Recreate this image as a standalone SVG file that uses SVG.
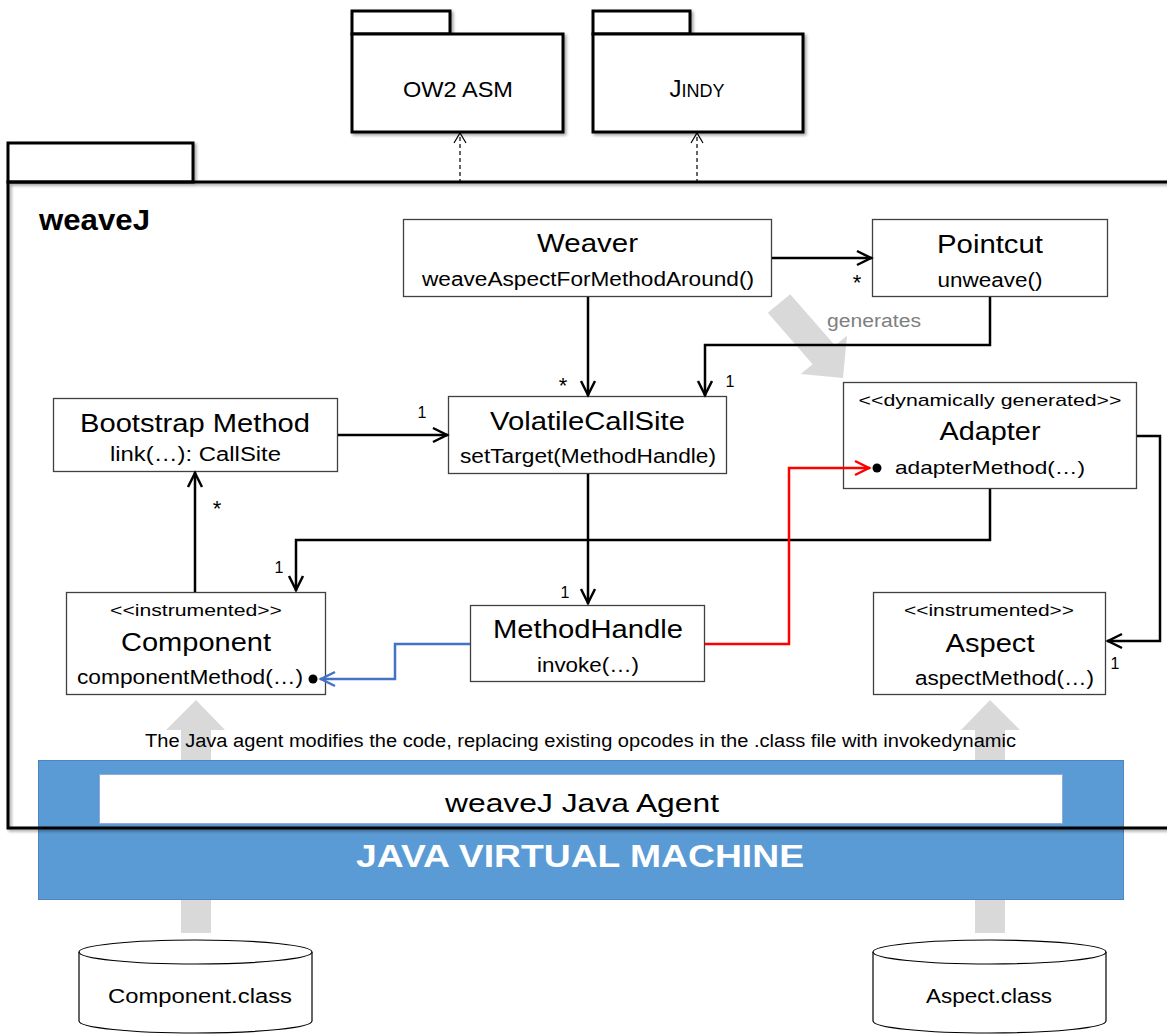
<svg xmlns="http://www.w3.org/2000/svg" width="1167" height="1036" viewBox="0 0 1167 1036">
  <defs>
    <style>
      text { font-family: "Liberation Sans", Arial, sans-serif; fill: #000; }
      .c { text-anchor: middle; }
      .title { font-size: 25px; }
      .op { font-size: 20px; }
      .st { font-size: 17px; }
      .mult { font-size: 16px; }
      .star { font-size: 22px; }
      .box { fill: #fff; stroke: #404040; stroke-width: 1.3; }
      .pkg { fill: #fff; stroke: #000; stroke-width: 3; }
      .conn { fill: none; stroke: #000; stroke-width: 2.5; }
      .gray { fill: #D9D9D9; }
    </style>
    <filter id="shadow" x="-5%" y="-5%" width="115%" height="120%">
      <feDropShadow dx="2" dy="2" stdDeviation="1.5" flood-color="#000" flood-opacity="0.35"/>
    </filter>
    <marker id="open" markerUnits="userSpaceOnUse" viewBox="-18 -10 20 20" refX="0" refY="0" markerWidth="20" markerHeight="20" orient="auto">
      <path d="M-15,-7 L-1,0 L-15,7" fill="none" stroke="#000" stroke-width="2.5"/>
    </marker>
    <marker id="openRed" markerUnits="userSpaceOnUse" viewBox="-18 -10 20 20" refX="0" refY="0" markerWidth="20" markerHeight="20" orient="auto">
      <path d="M-15,-7 L-1,0 L-15,7" fill="none" stroke="#FF0000" stroke-width="2.5"/>
    </marker>
    <marker id="openBlue" markerUnits="userSpaceOnUse" viewBox="-18 -10 20 20" refX="0" refY="0" markerWidth="20" markerHeight="20" orient="auto">
      <path d="M-15,-7 L-1,0 L-15,7" fill="none" stroke="#4472C4" stroke-width="2.5"/>
    </marker>
    <marker id="dep" markerUnits="userSpaceOnUse" viewBox="-12 -8 14 16" refX="0" refY="0" markerWidth="14" markerHeight="16" orient="auto">
      <path d="M-10,-6 L0,0 L-10,6" fill="none" stroke="#000" stroke-width="1.2"/>
    </marker>
  </defs>

  <rect width="1167" height="1036" fill="#fff"/>

  <!-- external packages -->
  <g id="pkg-asm">
    <g filter="url(#shadow)">
      <rect class="pkg" x="352" y="11" width="98" height="23"/>
      <rect class="pkg" x="352" y="34" width="211" height="98"/>
    </g>
    <text class="c" x="458" y="97" font-size="22" textLength="110" lengthAdjust="spacingAndGlyphs">OW2 ASM</text>
  </g>
  <g id="pkg-jindy">
    <g filter="url(#shadow)">
      <rect class="pkg" x="593" y="11" width="97" height="23"/>
      <rect class="pkg" x="593" y="34" width="210" height="98"/>
    </g>
    <text class="c" x="697" y="97"><tspan font-size="24">J</tspan><tspan font-size="18">INDY</tspan></text>
  </g>

  <!-- gray flow arrows (behind everything else) -->
  <g id="flow-arrows">
    <polygon class="gray" points="767.8,312.8 790.2,294.2 835,345.6 847,335.7 843,378 800.7,374.1 812.6,364.2"/>
    <polygon class="gray" points="181,933 181,730 166,730 196,700 225,730 211,730 211,933"/>
    <polygon class="gray" points="975,933 975,730 961,730 990,700 1020,730 1005,730 1005,933"/>
  </g>

  <!-- JVM and agent -->
  <g id="jvm">
    <rect x="38.5" y="760.5" width="1085" height="139" fill="#5B9BD5" stroke="#4A86C0" stroke-width="1"/>
    <text class="c" x="580" y="867" font-size="31" font-weight="bold" style="fill:#fff" textLength="448" lengthAdjust="spacingAndGlyphs">JAVA VIRTUAL MACHINE</text>
  </g>
  <g id="agent">
    <rect x="99.5" y="774.5" width="963" height="49" fill="#fff" stroke="#8FAADC" stroke-width="1"/>
    <text class="c" x="582" y="812" font-size="26" textLength="274" lengthAdjust="spacingAndGlyphs">weaveJ Java Agent</text>
  </g>

  <!-- weaveJ package frame -->
  <g id="pkg-weavej">
    <g filter="url(#shadow)">
      <rect x="8" y="143" width="185" height="39" fill="#fff" stroke="#000" stroke-width="3"/>
      <path d="M1175,182 L8,182 L8,828 L1175,828" fill="none" stroke="#000" stroke-width="3"/>
    </g>
    <text x="39" y="230" font-size="29" font-weight="bold" textLength="111" lengthAdjust="spacingAndGlyphs">weaveJ</text>
  </g>

  <text x="145" y="747" font-size="18" textLength="871" lengthAdjust="spacingAndGlyphs">The Java agent modifies the code, replacing existing opcodes in the .class file with invokedynamic</text>
  <text x="827" y="327" font-size="18" style="fill:#7F7F7F" textLength="94" lengthAdjust="spacingAndGlyphs">generates</text>

  <!-- class nodes -->
  <g id="weaver">
    <rect class="box" x="403.5" y="219.5" width="368" height="77"/>
    <text class="c title" x="587.5" y="252" textLength="101" lengthAdjust="spacingAndGlyphs">Weaver</text>
    <text class="c op" x="588" y="286" textLength="332" lengthAdjust="spacingAndGlyphs">weaveAspectForMethodAround()</text>
  </g>
  <g id="pointcut">
    <rect class="box" x="872.5" y="219.5" width="235" height="77"/>
    <text class="c title" x="990" y="253" textLength="106" lengthAdjust="spacingAndGlyphs">Pointcut</text>
    <text class="c op" x="990" y="287" textLength="105" lengthAdjust="spacingAndGlyphs">unweave()</text>
  </g>
  <g id="adapter">
    <rect class="box" x="843.5" y="382.5" width="293" height="106"/>
    <text class="c st" x="990" y="406" textLength="263" lengthAdjust="spacingAndGlyphs">&lt;&lt;dynamically generated&gt;&gt;</text>
    <text class="c title" x="990" y="440" textLength="101" lengthAdjust="spacingAndGlyphs">Adapter</text>
    <circle cx="877" cy="468" r="4.5" fill="#000"/>
    <text x="895" y="474" font-size="19" textLength="190" lengthAdjust="spacingAndGlyphs">adapterMethod(…)</text>
  </g>
  <g id="bootstrap">
    <rect class="box" x="53.5" y="398.5" width="284" height="73"/>
    <text class="c title" x="195" y="432" textLength="230" lengthAdjust="spacingAndGlyphs">Bootstrap Method</text>
    <text class="c op" x="195.5" y="461" textLength="171" lengthAdjust="spacingAndGlyphs">link(…): CallSite</text>
  </g>
  <g id="volatile-callsite">
    <rect class="box" x="448.5" y="396.5" width="278" height="77"/>
    <text class="c title" x="587.5" y="430" textLength="195" lengthAdjust="spacingAndGlyphs">VolatileCallSite</text>
    <text class="c op" x="588" y="463" textLength="256" lengthAdjust="spacingAndGlyphs">setTarget(MethodHandle)</text>
  </g>
  <g id="method-handle">
    <rect class="box" x="470.5" y="605.5" width="234" height="76"/>
    <text class="c title" x="588" y="638" textLength="190" lengthAdjust="spacingAndGlyphs">MethodHandle</text>
    <text class="c op" x="588" y="672" textLength="102" lengthAdjust="spacingAndGlyphs">invoke(…)</text>
  </g>
  <g id="component">
    <rect class="box" x="66.5" y="592.5" width="259" height="102"/>
    <text class="c st" x="196" y="616" textLength="172" lengthAdjust="spacingAndGlyphs">&lt;&lt;instrumented&gt;&gt;</text>
    <text class="c title" x="196" y="651" textLength="150" lengthAdjust="spacingAndGlyphs">Component</text>
    <text x="77" y="684" font-size="20" textLength="226" lengthAdjust="spacingAndGlyphs">componentMethod(…)</text>
    <circle cx="313" cy="679" r="4.5" fill="#000"/>
  </g>
  <g id="aspect">
    <rect class="box" x="873.5" y="592.5" width="232" height="102"/>
    <text class="c st" x="989" y="616" textLength="170" lengthAdjust="spacingAndGlyphs">&lt;&lt;instrumented&gt;&gt;</text>
    <text class="c title" x="990" y="652" textLength="89" lengthAdjust="spacingAndGlyphs">Aspect</text>
    <text x="915" y="685" font-size="20" textLength="179" lengthAdjust="spacingAndGlyphs">aspectMethod(…)</text>
  </g>

  <!-- connectors, drawn over the nodes so the call arrows reach the method dots -->
  <g id="connectors">
    <line x1="460" y1="183" x2="460" y2="133" stroke="#000" stroke-width="1.2" stroke-dasharray="4,3" marker-end="url(#dep)"/>
    <line x1="697" y1="183" x2="697" y2="133" stroke="#000" stroke-width="1.2" stroke-dasharray="4,3" marker-end="url(#dep)"/>

    <path class="conn" d="M772,258 L872,258" marker-end="url(#open)"/>
    <path class="conn" d="M588,297 L588,396" marker-end="url(#open)"/>
    <path class="conn" d="M990,297 L990,345 L705,345 L705,396" marker-end="url(#open)"/>
    <path class="conn" d="M338,435 L448,435" marker-end="url(#open)"/>
    <path class="conn" d="M195,592 L195,472" marker-end="url(#open)"/>
    <path class="conn" d="M588,474 L588,604" marker-end="url(#open)"/>
    <path class="conn" d="M990,489 L990,540 L296,540 L296,591" marker-end="url(#open)"/>
    <path class="conn" d="M1137,436 L1160,436 L1160,641 L1107,641" marker-end="url(#open)"/>

    <path d="M705,644 L789,644 L789,468 L870,468" fill="none" stroke="#FF0000" stroke-width="2.5" marker-end="url(#openRed)"/>
    <path d="M470,644 L395,644 L395,679 L320,679" fill="none" stroke="#4472C4" stroke-width="2.5" marker-end="url(#openBlue)"/>

    <text class="c star" x="857" y="290">*</text>
    <text class="c star" x="563" y="393">*</text>
    <text class="c mult" x="730" y="387">1</text>
    <text class="c mult" x="422" y="418">1</text>
    <text class="c star" x="217" y="516">*</text>
    <text class="c mult" x="279" y="573">1</text>
    <text class="c mult" x="565" y="598">1</text>
    <text class="c mult" x="1115" y="669">1</text>
  </g>

  <!-- class file stores -->
  <g id="component-class">
    <path d="M79,952 L79,1021 A116.5,12 0 0 0 312,1021 L312,952" fill="#fff" stroke="#000" stroke-width="1.2"/>
    <ellipse cx="195.5" cy="952" rx="116.5" ry="12" fill="#fff" stroke="#000" stroke-width="1.2"/>
    <text class="c" x="200" y="1003" font-size="20" textLength="184" lengthAdjust="spacingAndGlyphs">Component.class</text>
  </g>
  <g id="aspect-class">
    <path d="M873,952 L873,1021 A116.5,12 0 0 0 1106,1021 L1106,952" fill="#fff" stroke="#000" stroke-width="1.2"/>
    <ellipse cx="989.5" cy="952" rx="116.5" ry="12" fill="#fff" stroke="#000" stroke-width="1.2"/>
    <text class="c" x="989" y="1003" font-size="20" textLength="126" lengthAdjust="spacingAndGlyphs">Aspect.class</text>
  </g>
</svg>
